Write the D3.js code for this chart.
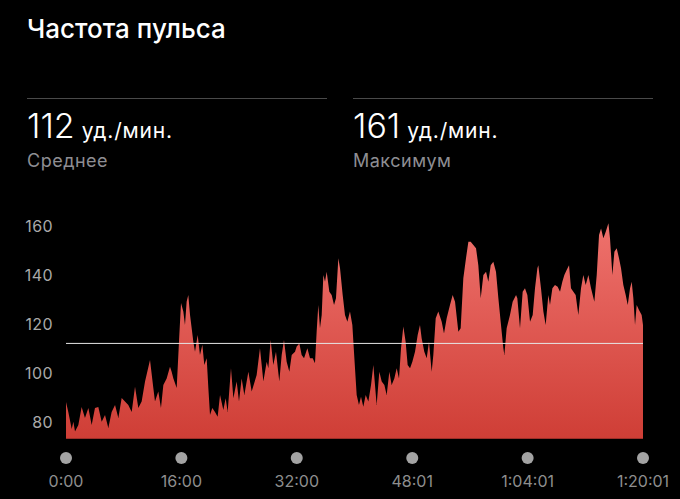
<!DOCTYPE html>
<html><head><meta charset="utf-8">
<script src="https://cdn.jsdelivr.net/npm/d3@7"></script>
<style>
html,body{margin:0;padding:0;background:#000;}
svg{display:block;}
text{font-family:Inter,"Noto Sans",sans-serif;}
</style></head>
<body>
<svg id="c" width="680" height="499"></svg>
<script>
// ---- data ----
const title = "Частота пульса";
const statValues = ["112", "161"];
const statUnit = "уд./мин.";
const statLabels = ["Среднее", "Максимум"];
const average = 112;
const durationMin = 80.0167;
const yTicks = [80, 100, 120, 140, 160];
const xTickMin = [0, 16, 32, 48.0167, 64.0167, 80.0167];
const xTickLabels = ["0:00", "16:00", "32:00", "48:01", "1:04:01", "1:20:01"];
const minutes = [0,0.32,0.79,1.02,1.25,1.71,2.17,2.63,3.10,3.56,4.02,4.48,4.95,5.41,5.87,6.33,6.80,7.26,7.72,8.18,8.64,9.11,9.57,10.03,10.49,10.96,11.65,12.11,
12.34,12.80,13.17,13.50,13.96,14.42,14.65,14.88,15.35,15.67,15.95,16.27,16.50,16.73,16.96,17.20,17.66,17.89,18.26,18.58,18.91,19.18,19.51,19.74,19.97,20.29,20.66,21.03,21.36,21.82,22.14,22.42,22.88,23.21,23.67,23.99,24.36,24.73,25.29,25.75,
26.44,26.90,27.37,27.83,28.06,28.38,28.75,29.12,29.58,29.91,30.23,30.60,30.97,31.30,31.76,31.99,32.36,32.68,33.01,33.47,33.84,34.21,34.53,34.76,34.99,35.22,35.46,35.69,35.92,36.15,36.52,36.84,37.17,37.44,37.77,38.00,38.37,38.69,39.02,
39.38,39.71,39.99,40.31,40.63,40.91,41.23,41.56,41.93,42.30,42.62,43.08,43.45,43.78,44.15,44.47,44.84,45.16,45.53,45.86,46.18,46.46,46.78,47.10,47.38,47.71,48.03,48.40,48.77,49.09,49.32,49.69,50.02,50.34,50.71,50.94,51.27,51.63,52.10,
52.42,52.79,53.25,53.62,53.95,54.41,54.73,55.10,55.47,55.80,56.12,56.49,56.86,57.18,57.51,57.88,58.25,58.57,58.90,59.26,59.63,59.96,60.28,60.65,60.79,61.11,61.57,61.94,62.41,62.59,62.96,63.33,63.65,63.98,64.35,64.72,65.04,65.37,
65.50,65.87,66.20,66.52,66.89,67.12,67.45,67.81,68.18,68.51,68.83,69.11,69.43,69.76,70.03,70.36,70.68,71.05,71.42,71.74,72.07,72.44,72.81,73.27,73.60,73.92,74.20,74.52,74.85,75.22,75.44,75.77,76.05,76.37,76.69,76.97,77.29,77.62,77.90,78.22,78.45,78.68,78.91,79.14,79.46,79.83,80.0167];
const bpm = [88,84,77,80,76,78.6,86,81.5,85.6,78.6,85.6,86,80,82.7,77.4,84,86.8,81.5,89.7,88.2,86.8,84,94.3,85.6,88.2,96.4,105.2,93.8,
88.2,92.3,85.6,95,97.7,102.5,100.4,97.8,93.8,112.7,128.5,125,119.5,129,131.8,123.6,112.7,108.6,115.4,107.3,111.4,103.2,105.9,93.8,82.7,85.6,84,82,90.9,84.8,89.6,84,101.8,89.6,96.4,88.2,97.7,90.9,100.4,92.3,
99.1,110,96.4,104.5,101.8,113.4,103.2,108.6,96.4,107.3,113.4,104.5,100.4,107.3,108.6,110.7,112,107.3,105.9,110,105.9,105.9,103.9,116.8,127.7,118.2,123.6,140,137.2,141.3,133.1,131.8,127.7,130.5,146.8,142.7,131.8,123.6,120.9,
125,119.5,105.9,90.9,86.8,90.2,86.1,90.9,88.2,95,103.2,86.8,100.4,96.4,95,90.9,100.4,95,97.7,101.8,97.7,110,118.9,112.7,103.2,101.8,104.5,108.6,115.4,119.5,114.1,108.6,105.9,112.7,100.4,107.3,122.3,125,120.9,
116.1,122.3,127.7,131.8,129,116.8,118.2,138.6,146.8,153.6,153.6,152.2,150.9,144,130.5,140,141.3,137.2,144,145.4,141.3,130.5,120.9,110,107.3,118.2,123.6,129,131.8,130.5,118.2,133.1,134.5,131.8,120.9,123.6,134.5,142.7,
144,134.5,125,119.5,131.8,127.7,134.5,135.9,135.2,133.1,137.2,140,142,144,134.5,133.1,131.8,123.6,134.5,140,135.9,140,134.5,129,140,156.3,159,155,157.7,161.1,155,140,149.5,150.9,146.8,142.7,135.9,131.8,127.7,134.5,137.2,130.5,119.5,127.7,125.7,123.6,119.5];

const data = minutes.map((m, i) => ({ m, v: bpm[i] }));

const svg = d3.select("#c");
svg.append("rect").attr("width", 680).attr("height", 499).attr("fill", "#000");

// title
svg.append("text").attr("x", 27).attr("y", 38).attr("fill", "#fff")
  .attr("font-size", 26).attr("font-weight", 500).text(title);

// stats
const statX = [27, 353];
statX.forEach((sx, i) => {
  svg.append("line").attr("x1", sx).attr("x2", sx + 300).attr("y1", 98.5).attr("y2", 98.5)
    .attr("stroke", "#4a4a4a").attr("stroke-width", 1);
  const t = svg.append("text").attr("x", sx).attr("y", 138).attr("fill", "#fff");
  t.append("tspan").attr("font-size", 34).attr("font-weight", 300).text(statValues[i]);
  t.append("tspan").attr("font-size", 21).attr("font-weight", 400).attr("dx", 7)
    .attr("letter-spacing", 0.8).text(statUnit);
  svg.append("text").attr("x", sx).attr("y", 167).attr("fill", "#8e8e93")
    .attr("font-size", 18).attr("letter-spacing", 0.5).text(statLabels[i]);
});

// scales
const x = d3.scaleLinear().domain([0, durationMin]).range([66, 643]);
const y = d3.scaleLinear().domain([73, 160]).range([438.8, 226]);

// gradient
const defs = svg.append("defs");
const g = defs.append("linearGradient").attr("id", "grad")
  .attr("gradientUnits", "userSpaceOnUse").attr("x1", 0).attr("x2", 0)
  .attr("y1", y(160)).attr("y2", y(73));
g.append("stop").attr("offset", 0).attr("stop-color", "#ee716c");
g.append("stop").attr("offset", 1).attr("stop-color", "#cf3e36");

const area = d3.area().x(d => x(d.m)).y0(y(73)).y1(d => y(d.v)).curve(d3.curveLinear);
svg.append("path").datum(data).attr("d", area).attr("fill", "url(#grad)");

// average line
svg.append("line").attr("x1", x(0)).attr("x2", x(durationMin))
  .attr("y1", y(average)).attr("y2", y(average))
  .attr("stroke", "#e6e6e6").attr("stroke-width", 1);

// y axis
const yAxis = d3.axisLeft(y).tickValues(yTicks).tickSize(0).tickPadding(0);
const ya = svg.append("g").attr("transform", "translate(53,0)").call(yAxis);
ya.select(".domain").remove();
ya.selectAll("text").attr("fill", "#a9a9a9").attr("font-size", 16).attr("letter-spacing", 0.4)
  .attr("font-family", 'Inter,"Noto Sans",sans-serif').attr("dy", "0.35em");

// x axis
const xa = svg.append("g");
xTickMin.forEach((m, i) => {
  xa.append("circle").attr("cx", x(m)).attr("cy", 458).attr("r", 6).attr("fill", "#a3a3a3");
  xa.append("text").attr("x", x(m)).attr("y", 487).attr("text-anchor", "middle")
    .attr("fill", "#8e8e8e").attr("font-size", 16).text(xTickLabels[i]);
});
</script>
</body></html>
